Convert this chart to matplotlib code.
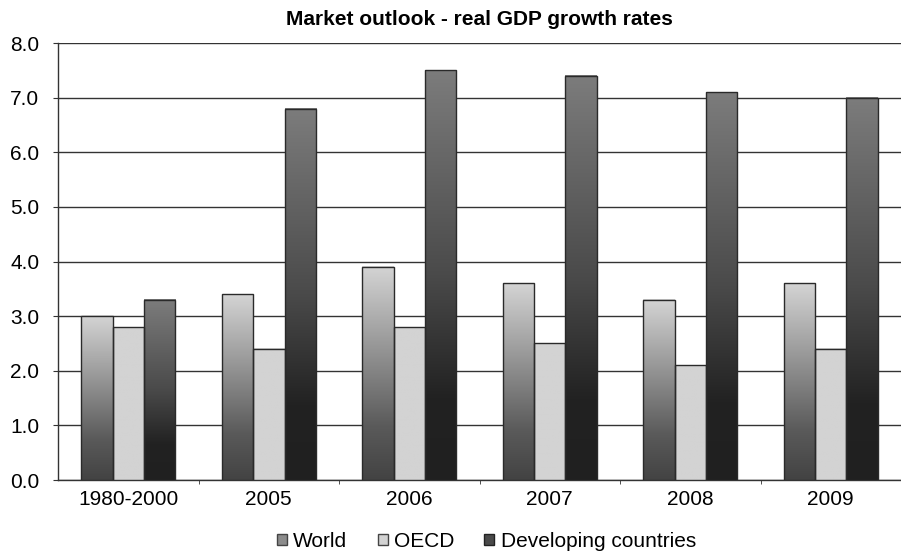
import matplotlib
matplotlib.use("Agg")
import matplotlib.pyplot as plt
import numpy as np
from matplotlib.patches import Patch
from matplotlib.colors import LinearSegmentedColormap

plt.rcParams['font.family'] = ['Liberation Sans', 'DejaVu Sans']

categories = ["1980-2000", "2005", "2006", "2007", "2008", "2009"]
series_names = ["World", "OECD", "Developing countries"]
world = [3.0, 3.4, 3.9, 3.6, 3.3, 3.6]
oecd = [2.8, 2.4, 2.8, 2.5, 2.1, 2.4]
developing = [3.3, 6.8, 7.5, 7.4, 7.1, 7.0]
y_ticks = [0, 1, 2, 3, 4, 5, 6, 7, 8]

fig = plt.figure(figsize=(9.01, 5.52), dpi=100)
ax = fig.add_axes([0.0644, 0.1304, 0.9356, 0.7916])

# gradients: value 0 = bottom, 1 = top
cmap_world = LinearSegmentedColormap.from_list("w", [(0, "#434343"), (0.25, "#5a5a5a"), (1, "#d4d4d4")])
cmap_oecd = LinearSegmentedColormap.from_list("o", [(0, "#d3d3d3"), (1, "#d3d3d3")])
cmap_dev = LinearSegmentedColormap.from_list("d", [(0, "#202020"), (0.2, "#222222"), (0.5, "#4a4a4a"), (1, "#7c7c7c")])

x = np.arange(len(categories))
bw = 0.224
grad = np.linspace(0, 1, 256).reshape(-1, 1)

ax.set_xlim(-0.5, len(categories) - 0.5)
ax.set_ylim(0, 8)
ax.set_yticks(y_ticks)
ax.set_yticklabels([f"{v:.1f}" for v in y_ticks])
ax.yaxis.grid(True, color="#333333", linewidth=1.0)
ax.set_axisbelow(True)

for vals, cmap, off in [(world, cmap_world, -1), (oecd, cmap_oecd, 0), (developing, cmap_dev, 1)]:
    bars = ax.bar(x + off * bw, vals, width=bw, facecolor="none", edgecolor="#2a2a2a", linewidth=1.0, zorder=4)
    for b in bars:
        x0 = b.get_x()
        h = b.get_height()
        ax.imshow(grad, extent=[x0, x0 + bw, 0, h], origin="lower", aspect="auto", cmap=cmap,
                  vmin=0, vmax=1, zorder=3, interpolation="bilinear")

ax.set_xlim(-0.5, len(categories) - 0.5)
ax.set_ylim(0, 8)

ax.set_xticks(x)
ax.set_xticklabels(categories, fontsize=15)
ax.tick_params(axis="x", length=0, pad=7)
ax.set_xticks(np.arange(0.5, len(categories) - 0.5, 1.0), minor=True)
ax.tick_params(axis="x", which="minor", length=3, color="#333333")
ax.tick_params(axis="y", length=3.6, color="#333333", labelsize=15, pad=10)

for s in ["top", "right"]:
    ax.spines[s].set_visible(False)
for s in ["left", "bottom"]:
    ax.spines[s].set_color("#333333")
    ax.spines[s].set_linewidth(1.0)

ax.set_title("Market outlook - real GDP growth rates", fontsize=15, fontweight="bold", pad=13)

handles = [Patch(facecolor="#8c8c8c", edgecolor="#444444", label=series_names[0]),
           Patch(facecolor="#d3d3d3", edgecolor="#444444", label=series_names[1]),
           Patch(facecolor="#4a4a4a", edgecolor="#222222", label=series_names[2])]
fig.legend(handles=handles, loc="center", bbox_to_anchor=(0.540, 0.019), ncol=3, frameon=False,
           fontsize=15, handlelength=0.48, handleheight=0.48, handletextpad=0.3, columnspacing=1.45,
           borderpad=0)

fig.savefig("out.png", dpi=100)
